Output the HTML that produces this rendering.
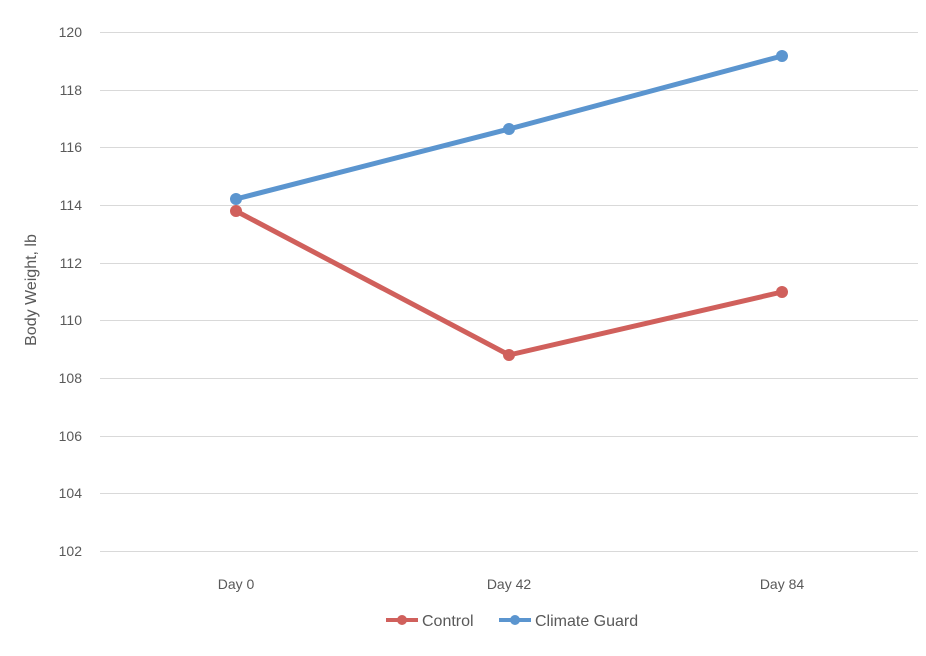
<!DOCTYPE html>
<html><head><meta charset="utf-8"><style>body{margin:0;background:#fff}</style></head><body>
<svg width="926" height="651" xmlns="http://www.w3.org/2000/svg" font-family="Liberation Sans, sans-serif">
<g stroke="#d9d9d9" stroke-width="1">
<line x1="100" x2="918" y1="32.5" y2="32.5"/><line x1="100" x2="918" y1="90.5" y2="90.5"/>
<line x1="100" x2="918" y1="147.5" y2="147.5"/><line x1="100" x2="918" y1="205.5" y2="205.5"/>
<line x1="100" x2="918" y1="263.5" y2="263.5"/><line x1="100" x2="918" y1="320.5" y2="320.5"/>
<line x1="100" x2="918" y1="378.5" y2="378.5"/><line x1="100" x2="918" y1="436.5" y2="436.5"/>
<line x1="100" x2="918" y1="493.5" y2="493.5"/><line x1="100" x2="918" y1="551.5" y2="551.5"/>
</g>
<g font-size="14" fill="#595959" text-anchor="end">
<text x="82" y="37">120</text><text x="82" y="95">118</text><text x="82" y="152">116</text>
<text x="82" y="210">114</text><text x="82" y="268">112</text><text x="82" y="325">110</text>
<text x="82" y="383">108</text><text x="82" y="441">106</text><text x="82" y="498">104</text>
<text x="82" y="556">102</text>
</g>
<g font-size="14" fill="#595959" text-anchor="middle">
<text x="236" y="589">Day 0</text><text x="509" y="589">Day 42</text><text x="782" y="589">Day 84</text>
</g>
<text transform="translate(36,290) rotate(-90)" font-size="16" fill="#595959" text-anchor="middle">Body Weight, lb</text>
<polyline points="236,211 509,355 782,292" fill="none" stroke="#d0605c" stroke-width="5"/>
<polyline points="236,199 509,129 782,56" fill="none" stroke="#5b95cf" stroke-width="5"/>
<g fill="#d0605c"><circle cx="236" cy="211" r="6"/><circle cx="509" cy="355" r="6"/><circle cx="782" cy="292" r="6"/></g>
<g fill="#5b95cf"><circle cx="236" cy="199" r="6"/><circle cx="509" cy="129" r="6"/><circle cx="782" cy="56" r="6"/></g>
<line x1="386" x2="418" y1="620" y2="620" stroke="#d0605c" stroke-width="4"/><circle cx="402" cy="620" r="5" fill="#d0605c"/>
<text x="422" y="626" font-size="16" fill="#595959">Control</text>
<line x1="499" x2="531" y1="620" y2="620" stroke="#5b95cf" stroke-width="4"/><circle cx="515" cy="620" r="5" fill="#5b95cf"/>
<text x="535" y="626" font-size="16" fill="#595959">Climate Guard</text>
</svg>
</body></html>
